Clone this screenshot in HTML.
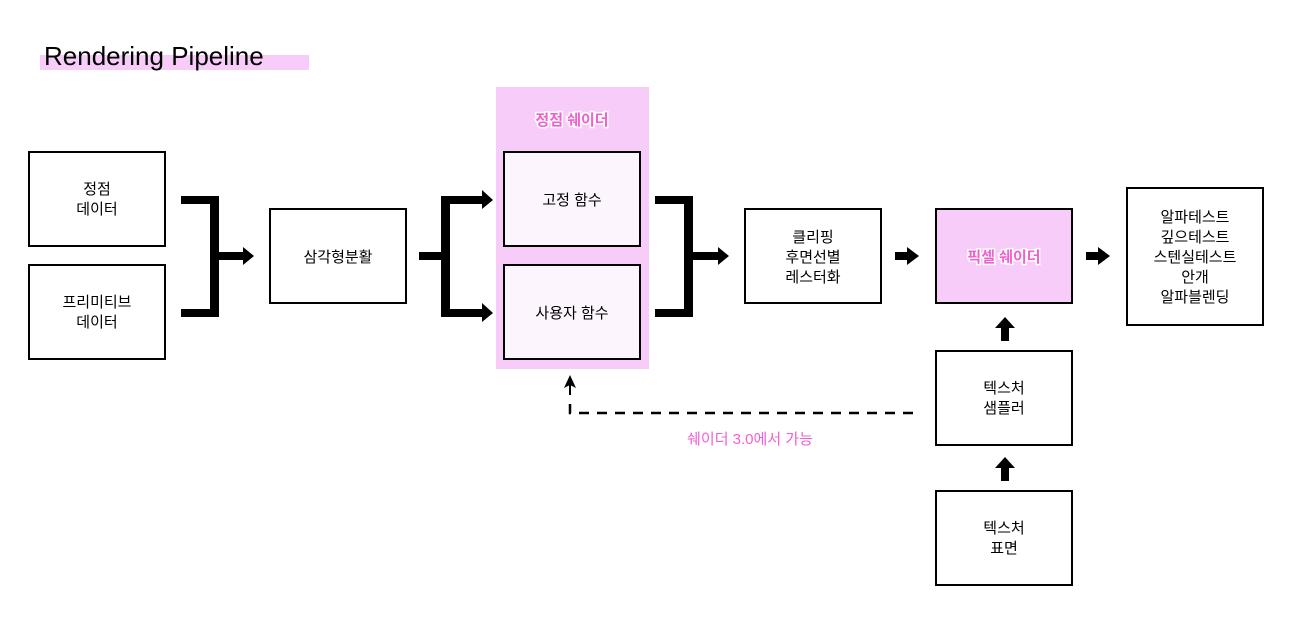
<!DOCTYPE html>
<html><head><meta charset="utf-8"><style>
html,body{margin:0;padding:0;background:#fff;}
svg{display:block;}
text{font-family:"Liberation Sans","Noto Sans CJK KR","NanumGothic",sans-serif;font-size:15px;fill:#000;text-anchor:middle;}
.pk{fill:#f060d0;font-weight:bold;stroke:#fff;stroke-width:3px;paint-order:stroke;}
</style></head><body>
<svg width="1292" height="625" viewBox="0 0 1292 625" xmlns="http://www.w3.org/2000/svg">
<rect width="1292" height="625" fill="#fff"/>
<rect x="40" y="55" width="269" height="15" fill="#f8ccf8"/>
<text x="44" y="65" style="font-size:26px;text-anchor:start">Rendering Pipeline</text>

<rect x="496" y="87" width="153" height="282" fill="#f8ccf8"/>
<text x="572" y="125" class="pk">정점 쉐이더</text>

<g fill="#fff" stroke="#000" stroke-width="2">
<rect x="29" y="152" width="136" height="94"/>
<rect x="29" y="265" width="136" height="94"/>
<rect x="270" y="209" width="136" height="94"/>
<rect x="504" y="152" width="136" height="94" fill="#fdf5fd"/>
<rect x="504" y="265" width="136" height="94" fill="#fdf5fd"/>
<rect x="745" y="209" width="136" height="94"/>
<rect x="936" y="209" width="136" height="94" fill="#f8ccf8"/>
<rect x="1127" y="188" width="136" height="137"/>
<rect x="936" y="351" width="136" height="94"/>
<rect x="936" y="491" width="136" height="94"/>
</g>

<text x="97" y="194">정점</text><text x="97" y="214">데이터</text>
<text x="97" y="307">프리미티브</text><text x="97" y="327">데이터</text>
<text x="338" y="262">삼각형분활</text>
<text x="572" y="205">고정 함수</text>
<text x="572" y="318">사용자 함수</text>
<text x="813" y="242">클리핑</text><text x="813" y="262">후면선별</text><text x="813" y="282">레스터화</text>
<text x="1004" y="262" class="pk">픽셀 쉐이더</text>
<text x="1195" y="222">알파테스트</text><text x="1195" y="242">깊으테스트</text><text x="1195" y="262">스텐실테스트</text><text x="1195" y="282">안개</text><text x="1195" y="302">알파블렌딩</text>
<text x="1004" y="393">텍스처</text><text x="1004" y="413">샘플러</text>
<text x="1004" y="533">텍스처</text><text x="1004" y="553">표면</text>

<g fill="#000">
<!-- bracket 1 -->
<rect x="181" y="196" width="38" height="8"/><rect x="181" y="309" width="38" height="8"/>
<rect x="210" y="196" width="9" height="121"/>
<rect x="219" y="252" width="25" height="8"/><polygon points="243,247 254,256 243,265"/>
<!-- bracket 2 -->
<rect x="419" y="252" width="30" height="8"/>
<rect x="441" y="196" width="9" height="121"/>
<rect x="441" y="196" width="42" height="8"/><polygon points="482,190 493,200 482,209"/>
<rect x="441" y="309" width="42" height="8"/><polygon points="482,303 493,313 482,322"/>
<!-- bracket 3 -->
<rect x="655" y="196" width="38" height="8"/><rect x="655" y="309" width="38" height="8"/>
<rect x="684" y="196" width="9" height="121"/>
<rect x="693" y="252" width="26" height="8"/><polygon points="718,247 729,256 718,265"/>
<!-- right arrows -->
<rect x="895" y="252" width="13" height="8"/><polygon points="907,247 919,256 907,265"/>
<rect x="1086" y="252" width="13" height="8"/><polygon points="1098,247 1110,256 1098,265"/>
<!-- up arrows -->
<rect x="1001" y="327" width="8" height="14"/><polygon points="995,328 1005,317 1015,328"/>
<rect x="1001" y="467" width="8" height="14"/><polygon points="995,468 1005,457 1015,468"/>
<!-- dashed arrow -->
<polygon points="564,388 570,375 576,388 570,385"/>
<rect x="569" y="385" width="2" height="10"/>
</g>
<path d="M570 404 V413 H920" fill="none" stroke="#000" stroke-width="2.5" stroke-dasharray="10,8"/>
<text x="750" y="444" class="pk" style="font-weight:normal;stroke-width:2px">쉐이더 3.0에서 가능</text>
</svg>
</body></html>
